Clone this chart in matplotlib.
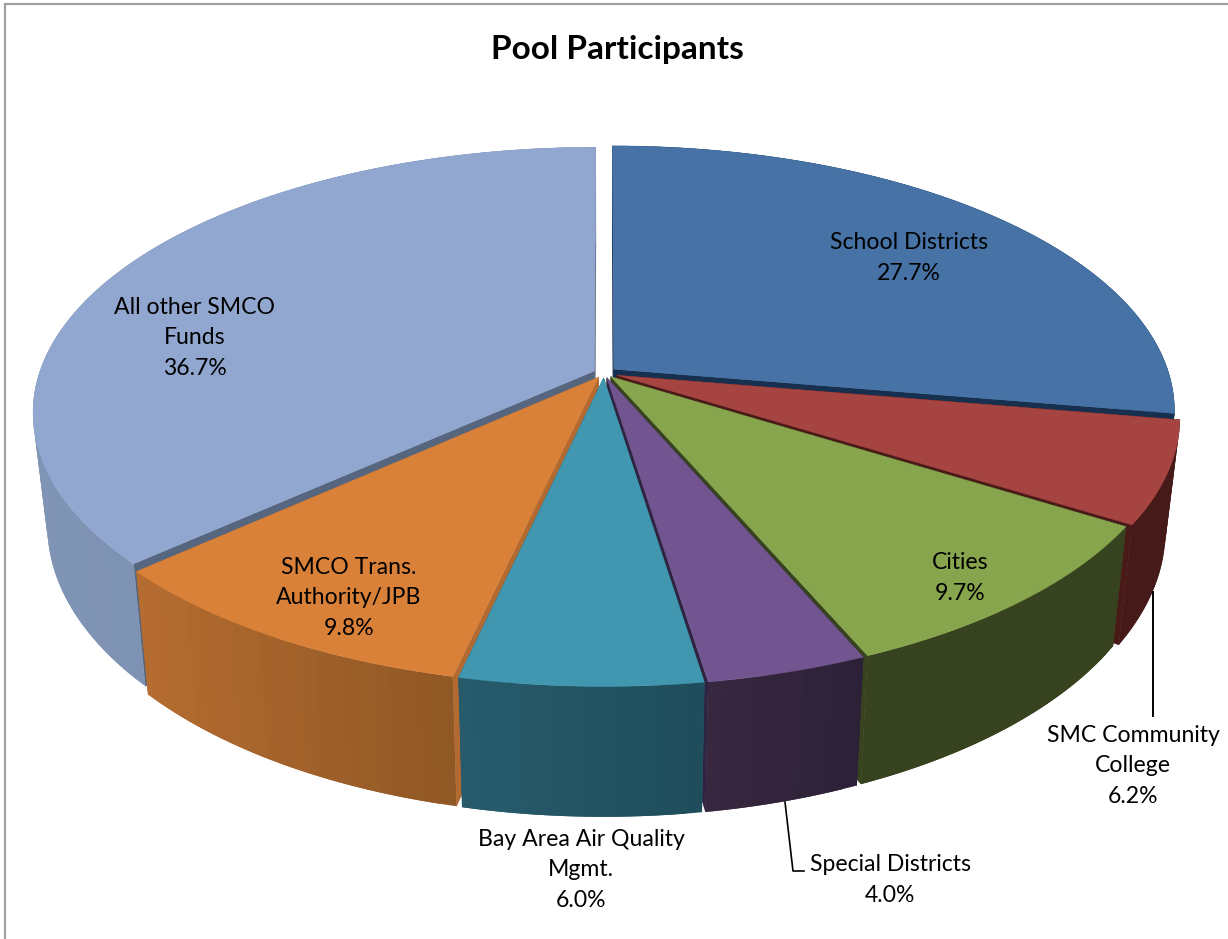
#!/usr/bin/env python3
"""Pool Participants - exploded 3D style pie, drawn by hand with polygons."""

import numpy as np
import matplotlib
matplotlib.use("Agg")
import matplotlib.pyplot as plt
from matplotlib.colors import to_rgb
from matplotlib.patches import Polygon

# Data
categories = ["School Districts", "SMC Community\nCollege", "Cities", "Special Districts",
              "Bay Area Air Quality\nMgmt.", "SMCO Trans.\nAuthority/JPB", "All other SMCO\nFunds"]
values = [27.7, 6.2, 9.7, 4.0, 6.0, 9.8, 36.7]

# Colours
top_colors = ["#4672A6", "#A64442", "#87A54D", "#725590", "#4197B0", "#DA8139", "#92A7CF"]
wall_left = ["#17304F", "#451A18", "#37421E", "#38283F", "#275C6C", "#B66C30", "#8094B5"]
wall_right = ["#17304F", "#451A18", "#37421E", "#2B2137", "#1F4C5A", "#8F5825", "#788BAB"]
cut_colors = ["#17304F", "#4A1A18", "#37421E", "#2E2340", "#275C6C", "#B36A30", "#57667F"]

# Layout, in image pixels
CX, CY = 604, 373
RX, RY = 555, 259
PERSP = 0.155
explode = [0.023, 0.025, 0.019, 0.019, 0.019, 0.019, 0.019]
DEPTH_BASE = 110
DEPTH_SCALE = 1.065
BOTTOM_X = 0.975

label_pos = [(909, 258), (1133, 766), (960, 578), (890, 880), (581, 870), (349, 598), (195, 338)]


def top_point(theta, radius=1.0, shift=(0.0, 0.0)):
    """Disc position to screen offset from the centre, with some perspective."""
    u = radius * np.sin(theta) + shift[0]
    v = -radius * np.cos(theta) + shift[1]
    w = 1 - PERSP * v
    return RX * u / w, RY * v / w


def to_screen(x, y, bottom=False):
    if bottom:
        return CX + x * BOTTOM_X, CY + y * DEPTH_SCALE + DEPTH_BASE
    return CX + x, CY + y


def slice_arc(a0, a1, shift, bottom=False, n=100):
    thetas = np.linspace(a0, a1, n)
    x, y = top_point(thetas, 1.0, shift)
    return np.column_stack(to_screen(x, y, bottom))


def draw_slice(ax, a0, a1, idx):
    mid = (a0 + a1) / 2
    shift = (explode[idx] * np.sin(mid), -explode[idx] * np.cos(mid))
    apex_t = np.array(to_screen(*top_point(0.0, 0.0, shift)))
    apex_b = np.array(to_screen(*top_point(0.0, 0.0, shift), bottom=True))

    # cut faces first
    for a in (a0, a1):
        edge_t = np.array(to_screen(*top_point(a, 1.0, shift)))
        edge_b = np.array(to_screen(*top_point(a, 1.0, shift), bottom=True))
        ax.add_patch(Polygon([apex_t, edge_t, edge_b, apex_b], closed=True,
                             facecolor=cut_colors[idx], edgecolor=cut_colors[idx], lw=0.4))

    # outer wall as overlapping strips so it gets the slight gradient without seams
    n_strips = max(int((a1 - a0) * 40), 6)
    left = np.array(to_rgb(wall_left[idx]))
    right = np.array(to_rgb(wall_right[idx]))
    edges = np.linspace(a0, a1, n_strips + 1)
    xs = np.sin(edges)
    x_min, x_max = xs.min(), xs.max()
    for i in range(n_strips):
        t = ((xs[i] + xs[i + 1]) / 2 - x_min) / max(x_max - x_min, 1e-6)
        col = left + (right - left) * t
        end = edges[min(i + 2, n_strips)]
        top_arc = slice_arc(edges[i], end, shift, n=10)
        bot_arc = slice_arc(edges[i], end, shift, bottom=True, n=10)
        ax.add_patch(Polygon(np.vstack([top_arc, bot_arc[::-1]]), closed=True,
                             facecolor=col, edgecolor="none", lw=0))

    # top face
    arc = slice_arc(a0, a1, shift, n=160)
    ax.add_patch(Polygon(np.vstack([apex_t, arc]), closed=True,
                         facecolor=top_colors[idx], edgecolor=top_colors[idx], lw=0.3))


plt.rcParams['font.family'] = ['Lato', 'DejaVu Sans']

fig = plt.figure(figsize=(12.28, 9.39), dpi=100)
ax = fig.add_axes([0, 0, 1, 1])
ax.set_xlim(0, 1228)
ax.set_ylim(939, 0)
ax.axis("off")

# chart frame, only top and left are inside the crop
ax.plot([5, 5, 1228], [939, 4, 4], color="#A0A0A0", lw=1.6, solid_joinstyle="miter")

# slice angles, clockwise from 12 o'clock
total = sum(values)
cum = np.cumsum([0] + values) / total * 2 * np.pi
angles = list(zip(cum[:-1], cum[1:]))

# back to front
order = sorted(range(len(values)), key=lambda i: -np.cos((angles[i][0] + angles[i][1]) / 2))
for i in order:
    draw_slice(ax, angles[i][0], angles[i][1], i)

# leader lines
ax.plot([1153, 1153], [592, 716], color="black", lw=1.4)
ax.plot([785, 793, 804], [802, 871, 871], color="black", lw=1.2)

# labels
for name, val, pos in zip(categories, values, label_pos):
    ax.text(pos[0], pos[1], f"{name}\n{val:.1f}%", ha="center", va="center",
            fontsize=16.6, color="black", linespacing=1.58)

ax.text(617, 50, "Pool Participants", ha="center", va="center", fontsize=24, fontweight="bold", color="black")

fig.savefig("out.png", dpi=100)
